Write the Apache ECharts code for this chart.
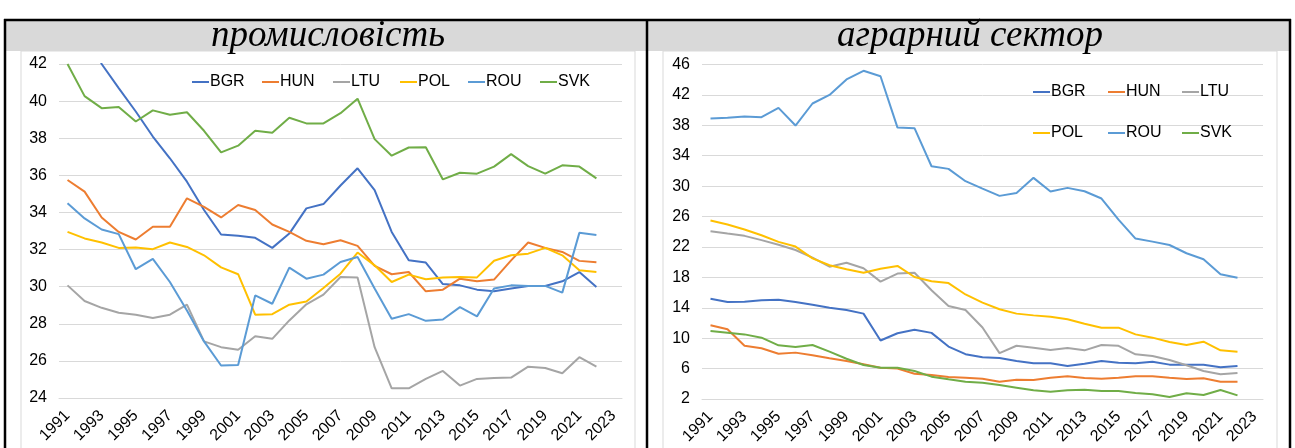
<!DOCTYPE html>
<html>
<head>
<meta charset="utf-8">
<script src="https://cdn.jsdelivr.net/npm/echarts@6/dist/echarts.min.js"></script>
<style>
  html, body { margin: 0; padding: 0; background: #fff; }
  #chart { width: 1295px; height: 448px; }
</style>
</head>
<body>
<div id="chart"></div>
<script>
var chartDom = document.getElementById('chart');
var myChart = echarts.init(chartDom);
var option;

// years on both category axes (2023 has no data)
let years = ['1991','1992','1993','1994','1995','1996','1997','1998','1999','2000',
  '2001','2002','2003','2004','2005','2006','2007','2008','2009','2010',
  '2011','2012','2013','2014','2015','2016','2017','2018','2019','2020',
  '2021','2022','2023'];

let countries = ['BGR', 'HUN', 'LTU', 'POL', 'ROU', 'SVK'];
let colors = ['#4472C4', '#ED7D31', '#A5A5A5', '#FFC000', '#5B9BD5', '#70AD47'];

// промисловість
let indBGR = [46.5, 44.2, 42.0, 40.7, 39.44, 38.09, 36.92, 35.66, 34.13, 32.81, 32.74, 32.63, 32.09, 32.86, 34.22, 34.45, 35.45, 36.38, 35.2, 32.95, 31.42, 31.3, 30.14, 30.07, 29.84, 29.75, 29.9, 30.04, 30.04, 30.29, 30.79, 29.98];
let indHUN = [35.75, 35.12, 33.73, 32.95, 32.54, 33.23, 33.23, 34.76, 34.3, 33.73, 34.4, 34.13, 33.35, 32.95, 32.47, 32.29, 32.5, 32.2, 31.12, 30.67, 30.79, 29.75, 29.84, 30.43, 30.29, 30.38, 31.42, 32.38, 32.09, 31.87, 31.39, 31.32];
let indLTU = [30.07, 29.23, 28.86, 28.59, 28.49, 28.31, 28.49, 29.03, 27.05, 26.74, 26.6, 27.33, 27.19, 28.18, 29.05, 29.57, 30.52, 30.49, 26.74, 24.52, 24.52, 25.03, 25.46, 24.67, 25.03, 25.08, 25.1, 25.69, 25.62, 25.33, 26.2, 25.69];
let indPOL = [32.95, 32.6, 32.38, 32.09, 32.11, 32.02, 32.38, 32.14, 31.69, 31.04, 30.67, 28.49, 28.52, 29.03, 29.2, 29.93, 30.7, 31.84, 31.15, 30.25, 30.65, 30.4, 30.49, 30.52, 30.5, 31.4, 31.69, 31.78, 32.09, 31.69, 30.88, 30.79];
let indROU = [34.49, 33.68, 33.08, 32.83, 30.94, 31.5, 30.25, 28.72, 27.05, 25.75, 25.78, 29.53, 29.08, 31.03, 30.43, 30.65, 31.33, 31.6, 29.9, 28.27, 28.52, 28.16, 28.23, 28.9, 28.4, 29.9, 30.07, 30.04, 30.04, 29.68, 32.9, 32.78];
let indSVK = [42.0, 40.27, 39.62, 39.68, 38.9, 39.5, 39.26, 39.4, 38.4, 37.24, 37.6, 38.4, 38.3, 39.1, 38.8, 38.8, 39.35, 40.13, 37.95, 37.06, 37.5, 37.51, 35.78, 36.14, 36.09, 36.47, 37.14, 36.5, 36.09, 36.54, 36.47, 35.84];

// аграрний сектор
let agrBGR = [15.2, 14.76, 14.8, 14.98, 15.07, 14.76, 14.4, 14.0, 13.7, 13.23, 9.7, 10.65, 11.1, 10.7, 8.9, 7.9, 7.5, 7.4, 7.0, 6.7, 6.7, 6.34, 6.65, 7.0, 6.78, 6.7, 6.9, 6.52, 6.52, 6.52, 6.17, 6.34];
let agrHUN = [11.7, 11.17, 9.0, 8.67, 7.96, 8.1, 7.75, 7.35, 7.0, 6.56, 6.12, 6.0, 5.33, 5.16, 4.9, 4.8, 4.67, 4.28, 4.54, 4.5, 4.8, 4.98, 4.76, 4.67, 4.8, 4.98, 4.98, 4.8, 4.63, 4.72, 4.28, 4.28];
let agrLTU = [24.07, 23.76, 23.46, 22.9, 22.3, 21.6, 20.6, 19.4, 19.93, 19.2, 17.44, 18.5, 18.6, 16.3, 14.24, 13.7, 11.4, 8.03, 9.0, 8.75, 8.45, 8.71, 8.4, 9.1, 9.0, 7.88, 7.66, 7.13, 6.43, 5.68, 5.25, 5.42];
let agrPOL = [25.47, 24.95, 24.3, 23.54, 22.67, 22.05, 20.5, 19.6, 19.06, 18.6, 19.14, 19.5, 18.05, 17.5, 17.25, 15.75, 14.68, 13.8, 13.23, 13.0, 12.83, 12.48, 11.9, 11.38, 11.38, 10.5, 10.07, 9.5, 9.1, 9.54, 8.4, 8.23];
let agrROU = [38.9, 38.98, 39.16, 39.07, 40.3, 37.97, 40.87, 42.0, 44.03, 45.17, 44.46, 37.7, 37.62, 32.62, 32.27, 30.65, 29.68, 28.72, 29.11, 31.09, 29.29, 29.77, 29.33, 28.37, 25.6, 23.1, 22.7, 22.26, 21.17, 20.38, 18.4, 17.96];
let agrSVK = [10.95, 10.73, 10.5, 10.07, 9.06, 8.84, 9.1, 8.23, 7.3, 6.47, 6.12, 6.12, 5.68, 4.94, 4.6, 4.28, 4.15, 3.84, 3.49, 3.14, 2.96, 3.14, 3.23, 3.05, 3.05, 2.79, 2.61, 2.26, 2.75, 2.53, 3.18, 2.48];

let indData = [indBGR, indHUN, indLTU, indPOL, indROU, indSVK];
let agrData = [agrBGR, agrHUN, agrLTU, agrPOL, agrROU, agrSVK];

const font = 'Liberation Sans, Arial, sans-serif';
const gridColor = '#d9d9d9';
const serifItalic = 'italic 37px "Liberation Serif", "Times New Roman", serif';

function xAxisFor(idx) {
  return {
    type: 'category',
    gridIndex: idx,
    data: years,
    boundaryGap: true,
    axisLine: { show: true, lineStyle: { color: gridColor } },
    axisTick: { show: false },
    axisLabel: {
      interval: 1,
      rotate: 45,
      margin: 15,
      color: '#000',
      fontFamily: font,
      fontSize: 16
    }
  };
}

function yAxisFor(idx, min, max, step) {
  return {
    type: 'value',
    gridIndex: idx,
    min: min,
    max: max,
    interval: step,
    axisLine: { show: false },
    axisTick: { show: false },
    splitLine: { lineStyle: { color: gridColor, width: 1 } },
    axisLabel: { color: '#000', fontFamily: font, fontSize: 16, margin: 12 }
  };
}

let series = [];
countries.forEach(function (c, i) {
  series.push({
    name: c, type: 'line', xAxisIndex: 0, yAxisIndex: 0,
    data: indData[i], symbol: 'none', clip: true,
    lineStyle: { width: 2, color: colors[i] }, itemStyle: { color: colors[i] }
  });
});
countries.forEach(function (c, i) {
  series.push({
    name: c, type: 'line', xAxisIndex: 1, yAxisIndex: 1,
    data: agrData[i], symbol: 'none', clip: true,
    lineStyle: { width: 2, color: colors[i] }, itemStyle: { color: colors[i] }
  });
});

// one legend per entry so the columns sit where Excel put them
function legendItem(name, left, top) {
  return {
    data: [name],
    left: left,
    top: top,
    padding: 0,
    icon: 'rect',
    itemWidth: 17,
    itemHeight: 2,
    selectedMode: false,
    textStyle: { color: '#000', fontFamily: font, fontSize: 16, padding: [0, 0, 0, -4] }
  };
}

let legendLeftX = [192, 262, 333, 400, 468, 540];
let legendRightX = [1033, 1108, 1182];
let legends = [];
countries.forEach(function (c, i) {
  legends.push(legendItem(c, legendLeftX[i], 74));
});
countries.forEach(function (c, i) {
  legends.push(legendItem(c, legendRightX[i % 3], i < 3 ? 84 : 125));
});

option = {
  animation: false,
  backgroundColor: '#fff',
  graphic: [
    // header band
    { type: 'rect', shape: { x: 6, y: 21, width: 1283, height: 30 }, style: { fill: '#d9d9d9' }, silent: true },
    // chart area frames
    { type: 'rect', shape: { x: 21, y: 51, width: 614, height: 410 }, style: { fill: '#fff', stroke: gridColor, lineWidth: 1 }, silent: true },
    { type: 'rect', shape: { x: 663, y: 51, width: 614, height: 410 }, style: { fill: '#fff', stroke: gridColor, lineWidth: 1 }, silent: true },
    // black table borders
    { type: 'line', shape: { x1: 4, y1: 20, x2: 1291, y2: 20 }, style: { stroke: '#000', lineWidth: 2.5 }, silent: true },
    { type: 'line', shape: { x1: 5, y1: 19, x2: 5, y2: 448 }, style: { stroke: '#000', lineWidth: 2.5 }, silent: true },
    { type: 'line', shape: { x1: 647, y1: 19, x2: 647, y2: 448 }, style: { stroke: '#000', lineWidth: 2.5 }, silent: true },
    { type: 'line', shape: { x1: 1290, y1: 19, x2: 1290, y2: 448 }, style: { stroke: '#000', lineWidth: 2.5 }, silent: true },
    // panel headers
    { type: 'text', x: 328, y: 36, style: { text: 'промисловість', fill: '#000', font: serifItalic, textAlign: 'center', textVerticalAlign: 'middle' }, silent: true },
    { type: 'text', x: 970, y: 36, style: { text: 'аграрний сектор', fill: '#000', font: serifItalic, textAlign: 'center', textVerticalAlign: 'middle' }, silent: true }
  ],
  grid: [
    { left: 59, top: 64, width: 563, height: 334 },
    { left: 702, top: 64.5, width: 561, height: 334.5 }
  ],
  legend: legends,
  xAxis: [xAxisFor(0), xAxisFor(1)],
  yAxis: [yAxisFor(0, 24, 42, 2), yAxisFor(1, 2, 46, 4)],
  series: series
};

option && myChart.setOption(option);
</script>
</body>
</html>
